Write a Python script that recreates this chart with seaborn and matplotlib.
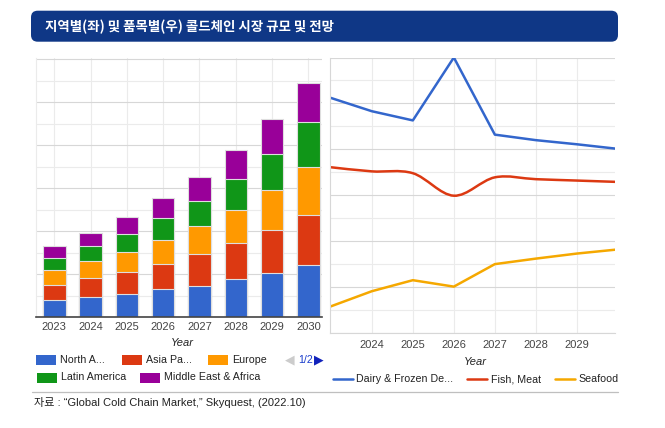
import numpy as np
import pandas as pd
import seaborn as sns
import matplotlib.pyplot as plt
from matplotlib.patches import FancyBboxPatch, Rectangle, PathPatch
from matplotlib.path import Path
from matplotlib.lines import Line2D

# ---- data (arbitrary units) ----
years = ['2023', '2024', '2025', '2026', '2027', '2028', '2029', '2030']
regions = ['North America', 'Asia Pacific', 'Europe', 'Latin America', 'Middle East & Africa']
north_america = [16.1, 18.9, 21.7, 25.7, 29.1, 35.3, 41.2, 48.7]
asia_pacific = [14.0, 17.1, 20.5, 23.9, 29.1, 33.5, 39.4, 46.5]
europe = [13.6, 15.8, 18.3, 22.3, 26.4, 31.0, 37.5, 44.0]
latin_america = [11.5, 14.3, 17.1, 19.8, 23.6, 28.8, 33.8, 41.9]
middle_east_africa = [10.5, 12.4, 15.2, 18.6, 22.3, 27.0, 32.6, 36.9]

line_years = [2023, 2024, 2025, 2026, 2027, 2028, 2029, 2030]
dairy = [5.12, 4.83, 4.63, 6.00, 4.32, 4.20, 4.11, 4.01]
fish_meat = [3.61, 3.52, 3.48, 2.99, 3.39, 3.35, 3.32, 3.29]
seafood = [0.58, 0.91, 1.15, 1.01, 1.50, 1.62, 1.73, 1.82]
right_ticks = [2024, 2025, 2026, 2027, 2028, 2029]

bar_colors = ['#3366cc', '#dc3912', '#ff9900', '#109618', '#990099']
legend_left = ['North A...', 'Asia Pa...', 'Europe', 'Latin America', 'Middle East & Africa']
line_colors = ['#3366cc', '#dc3912', '#f5a800']
legend_right = ['Dairy & Frozen De...', 'Fish, Meat', 'Seafood']

sns.set_theme(style='white')
plt.rcParams['font.family'] = ['Liberation Sans', 'Noto Sans CJK KR', 'DejaVu Sans']

W, H = 665, 428
def fx(x):
    return x / W
def fy(y):
    return 1 - y / H

fig = plt.figure(figsize=(6.65, 4.28), dpi=100)
fig.patch.set_facecolor('white')

GRID_MAJ = '#d7d7d7'
GRID_MIN = '#ebebeb'
TXT = '#444444'
TICK_FS = 8
LEG_FS = 7.7

# ---- left: stacked bars ----
ax1 = fig.add_axes([fx(35.7), fy(317), (322 - 35.7) / W, (317 - 58) / H])
df = pd.DataFrame({'Year': years, 'North America': north_america, 'Asia Pacific': asia_pacific,
                   'Europe': europe, 'Latin America': latin_america,
                   'Middle East & Africa': middle_east_africa})
stack = df[regions].cumsum(axis=1)
for region, color in reversed(list(zip(regions, bar_colors))):
    sns.barplot(x=df['Year'], y=stack[region], color=color, saturation=1, width=0.62,
                edgecolor='#dedede', linewidth=0.8, ax=ax1)
ax1.set_xlim(-0.512, 7.375)
ax1.set_ylim(0, 241)
ax1.set_yticks(np.arange(0, 241, 40))
ax1.set_yticks(np.arange(20, 241, 40), minor=True)
ax1.grid(axis='y', which='major', color=GRID_MAJ, lw=0.8)
ax1.grid(axis='y', which='minor', color=GRID_MIN, lw=0.8)
ax1.grid(axis='x', which='major', color=GRID_MIN, lw=0.8)
ax1.set_axisbelow(True)
ax1.tick_params(axis='y', which='both', left=False, labelleft=False)
ax1.tick_params(axis='x', length=0, pad=3.8, labelsize=TICK_FS, labelcolor=TXT)
ax1.set_xlabel('')
ax1.set_ylabel('')
for s in ['top', 'right']:
    ax1.spines[s].set_visible(False)
ax1.spines['left'].set_color(GRID_MIN)
ax1.spines['left'].set_linewidth(0.8)
ax1.spines['bottom'].set_color('#444444')
ax1.spines['bottom'].set_linewidth(1.2)

# ---- right: lines ----
ax2 = fig.add_axes([fx(330), fy(333), (615 - 330) / W, (333 - 57.5) / H])
sns.lineplot(x=line_years, y=dairy, color=line_colors[0], lw=1.8, ax=ax2)
sns.lineplot(x=line_years, y=seafood, color=line_colors[2], lw=1.8, ax=ax2)

# smooth curve through the fish/meat points (Catmull-Rom as cubic Bezier)
px = np.array(line_years, dtype=float)
py = np.array(fish_meat)
pts = np.column_stack([px, py])
ext = np.vstack([pts[0], pts, pts[-1]])
verts = [tuple(pts[0])]
codes = [Path.MOVETO]
for i in range(len(pts) - 1):
    p0, p1, p2, p3 = ext[i], ext[i + 1], ext[i + 2], ext[i + 3]
    c1 = p1 + (p2 - p0) / 6
    c2 = p2 - (p3 - p1) / 6
    verts += [tuple(c1), tuple(c2), tuple(p2)]
    codes += [Path.CURVE4] * 3
ax2.add_patch(PathPatch(Path(verts, codes), fill=False, edgecolor=line_colors[1], lw=1.8))

ax2.set_xlim(2022.98, 2029.93)
ax2.set_ylim(0, 6.0)
ax2.set_xticks(right_ticks)
ax2.set_xticklabels([str(y) for y in right_ticks])
ax2.set_yticks(np.arange(0, 6.1, 1))
ax2.set_yticks(np.arange(0.5, 6.0, 1), minor=True)
ax2.grid(axis='y', which='major', color=GRID_MAJ, lw=0.8)
ax2.grid(axis='y', which='minor', color=GRID_MIN, lw=0.8)
ax2.grid(axis='x', which='major', color=GRID_MIN, lw=0.8)
ax2.set_axisbelow(True)
ax2.tick_params(axis='y', which='both', left=False, labelleft=False)
ax2.tick_params(axis='x', length=0, pad=4.8, labelsize=TICK_FS, labelcolor=TXT)
for s in ['top', 'right']:
    ax2.spines[s].set_visible(False)
for s in ['left', 'bottom']:
    ax2.spines[s].set_color(GRID_MAJ)
    ax2.spines[s].set_linewidth(0.8)

# axis titles
fig.text(fx(182), fy(343), 'Year', ha='center', va='center', fontsize=TICK_FS,
         style='italic', color='#222222')
fig.text(fx(475), fy(362), 'Year', ha='center', va='center', fontsize=TICK_FS,
         style='italic', color='#222222')

# ---- title banner ----
fig.add_artist(FancyBboxPatch((fx(31), fy(41.7)), (618 - 31) / W, 31 / H,
                              boxstyle='round,pad=0,rounding_size=0.01',
                              mutation_aspect=W / H, transform=fig.transFigure,
                              facecolor='#0f3786', edgecolor='none'))
fig.text(fx(45), fy(26.5), '지역별(좌) 및 품목별(우) 콜드체인 시장 규모 및 전망',
         ha='left', va='center', fontsize=9.7, fontweight='bold', color='white',
         family=['Noto Sans CJK KR', 'DejaVu Sans'])

# ---- left legend ----
def swatch(x, y, color, label):
    fig.add_artist(Rectangle((fx(x), fy(y + 5)), 20 / W, 10 / H, transform=fig.transFigure,
                             facecolor=color, edgecolor='none'))
    fig.text(fx(x + 24), fy(y), label, ha='left', va='center', fontsize=LEG_FS, color='#222222')

swatch(36, 360, bar_colors[0], legend_left[0])
swatch(122, 360, bar_colors[1], legend_left[1])
swatch(208, 360, bar_colors[2], legend_left[2])
swatch(37, 377.5, bar_colors[3], legend_left[3])
swatch(140, 377.5, bar_colors[4], legend_left[4])
fig.text(fx(285), fy(360), '◀', ha='left', va='center', fontsize=9, color='#cccccc',
         family=['DejaVu Sans'])
fig.text(fx(298), fy(360), '1/2', ha='left', va='center', fontsize=LEG_FS, color='#1a3dcc')
fig.text(fx(313.5), fy(360), '▶', ha='left', va='center', fontsize=9, color='#1122bb',
         family=['DejaVu Sans'])

# ---- right legend ----
def line_key(x, y, color, label):
    fig.add_artist(Line2D([fx(x), fx(x + 20)], [fy(y), fy(y)], transform=fig.transFigure,
                          color=color, lw=1.8))
    fig.text(fx(x + 24), fy(y), label, ha='left', va='center', fontsize=LEG_FS, color='#222222')

line_key(332.5, 379, line_colors[0], legend_right[0])
line_key(467, 379, line_colors[1], legend_right[1])
line_key(554.5, 379, line_colors[2], legend_right[2])

# ---- separator & source ----
fig.add_artist(Line2D([fx(31.5), fx(618)], [fy(392.3), fy(392.3)], transform=fig.transFigure,
                      color='#bfbfbf', lw=0.9))
fig.text(fx(34), fy(402), '자료 : “Global Cold Chain Market,” Skyquest, (2022.10)',
         ha='left', va='center', fontsize=8, color='#222222')

fig.savefig('out.png', dpi=100, facecolor='white')
